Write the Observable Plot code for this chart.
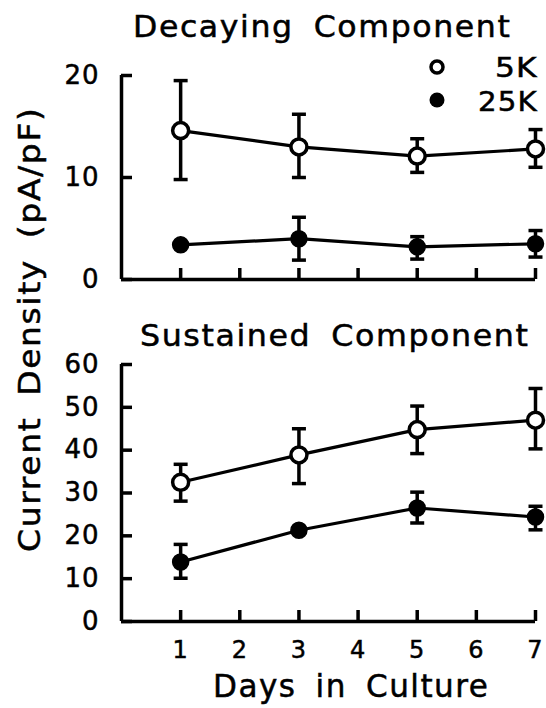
<!DOCTYPE html>
<html><head><meta charset="utf-8">
<script src="https://cdn.jsdelivr.net/npm/d3@7"></script>
<script src="https://cdn.jsdelivr.net/npm/@observablehq/plot@0.6"></script>
<style>
body{margin:0;background:#fff;}
#wrap{position:relative;width:546px;height:708px;overflow:hidden;background:#fff;}
#wrap > svg{position:absolute;left:0;}
#wrap text{stroke:#000;stroke-width:0.5px;}
</style></head><body>
<div id="wrap"></div>
<script>
// ---- data ----
const days = [1, 3, 5, 7];
const xTicks = [1, 2, 3, 4, 5, 6, 7];
const series = ["5K", "25K"];

const decayYTicks = [0, 10, 20];
const decay5K    = [14.6, 13.0, 12.1, 12.8];
const decay5KLo  = [9.8, 10.0, 10.5, 11.0];
const decay5KHi  = [19.5, 16.2, 13.8, 14.7];
const decay25K   = [3.4, 4.0, 3.2, 3.5];
const decay25KLo = [null, 1.9, 2.0, 2.2];
const decay25KHi = [null, 6.1, 4.2, 4.8];

const sustYTicks = [0, 10, 20, 30, 40, 50, 60];
const sust5K    = [32.5, 38.9, 44.8, 47.0];
const sust5KLo  = [28.1, 32.2, 39.2, 40.3];
const sust5KHi  = [36.7, 45.0, 50.3, 54.4];
const sust25K   = [13.9, 21.3, 26.5, 24.4];
const sust25KLo = [10.1, null, 23.0, 21.4];
const sust25KHi = [18.0, null, 30.2, 26.9];

const titles = ["Decaying Component", "Sustained Component"];
const yLabel = "Current Density (pA/pF)";
const xLabel = "Days in Culture";

// ---- build rows ----
function rowsFor(vals, lo, hi, name) {
  return days.map((d, i) => ({day: d, value: vals[i], lo: lo[i], hi: hi[i], series: name}));
}
const decayRows = [...rowsFor(decay5K, decay5KLo, decay5KHi, series[0]), ...rowsFor(decay25K, decay25KLo, decay25KHi, series[1])];
const sustRows  = [...rowsFor(sust5K, sust5KLo, sust5KHi, series[0]), ...rowsFor(sust25K, sust25KLo, sust25KHi, series[1])];

const FONT = "DejaVu Sans, sans-serif";
const capSymbol = {draw(ctx) { ctx.moveTo(-7, 0); ctx.lineTo(7, 0); }};

function panel({rows, yTicks, height, marginTop, marginBottom, showX}) {
  const yMax = yTicks[yTicks.length - 1];
  const bars = rows.filter(d => d.lo != null);
  const caps = bars.flatMap(d => [{day: d.day, v: d.lo}, {day: d.day, v: d.hi}]);
  return Plot.plot({
    width: 546, height, marginLeft: 121, marginRight: 11, marginTop, marginBottom,
    x: {domain: [0, 7]},
    y: {domain: [0, yMax]},
    style: {fontFamily: FONT, fontSize: "26px", color: "#000", background: "transparent", overflow: "visible", letterSpacing: "1px"},
    marks: [
      Plot.axisY(yTicks, {anchor: "left", tickSize: -11, tickPadding: 33, strokeWidth: 3.5, label: null, fontSize: 26}),
      Plot.axisX(xTicks, {anchor: "bottom", tickSize: -11, tickPadding: 30, strokeWidth: 3.5, label: null, fontSize: 24,
        tickFormat: showX ? (d => String(d)) : (() => "")}),
      Plot.ruleX([0], {y1: 0, y2: yMax, strokeWidth: 3.5}),
      Plot.ruleY([0], {x1: 0, x2: 7, strokeWidth: 3.5}),
      Plot.ruleX(bars, {x: "day", y1: "lo", y2: "hi", strokeWidth: 3.5}),
      Plot.dot(caps, {x: "day", y: "v", symbol: capSymbol, fill: "none", stroke: "black", strokeWidth: 3.5}),
      Plot.line(rows, {x: "day", y: "value", z: "series", stroke: "black", strokeWidth: 3.2}),
      Plot.dot(rows, {x: "day", y: "value", r: 8,
        fill: d => d.series === series[0] ? "white" : "black",
        stroke: "black", strokeWidth: d => d.series === series[0] ? 3.5 : 1.5})
    ]
  });
}

const wrap = document.getElementById("wrap");
const top1 = panel({rows: decayRows, yTicks: decayYTicks, height: 290, marginTop: 75, marginBottom: 11, showX: false});
top1.style.top = "0px";
wrap.appendChild(top1);
const top2 = panel({rows: sustRows, yTicks: sustYTicks, height: 371, marginTop: 64, marginBottom: 50, showX: true});
top2.style.top = "300px";
wrap.appendChild(top2);

// ---- text overlay (titles, axis labels, legend) ----
const ov = d3.select(wrap).append("svg")
  .attr("width", 546).attr("height", 708)
  .style("top", "0px")
  .attr("font-family", FONT).attr("fill", "#000");

// place text with its left edge at x, baseline y, spaced and stretched to the target width
function fitText(str, x, y, size, width, rotate, ls = 1.5, ws = 8) {
  const t = ov.append("text").attr("font-size", size)
    .style("letter-spacing", ls + "px").style("word-spacing", ws + "px").text(str);
  const L = t.node().getBBox().width - ls;
  const s = width / L;
  t.attr("transform", `translate(${x},${y})` + (rotate ? " rotate(-90)" : "") + ` scale(${s},1)`);
  return t;
}
fitText(titles[0], 133, 37, 30, 377);
fitText(titles[1], 140, 346, 30, 388);
fitText(xLabel, 213, 697, 32, 275);
fitText(yLabel, 40, 552, 30, 444, true);

// legend
ov.append("circle").attr("cx", 437).attr("cy", 67).attr("r", 6).attr("fill", "white").attr("stroke", "black").attr("stroke-width", 3.5);
ov.append("circle").attr("cx", 437).attr("cy", 100).attr("r", 7.5).attr("fill", "black");
fitText(series[0], 495, 77, 27, 42, false, 1, 0);
fitText(series[1], 478, 111, 27, 59, false, 1, 0);
</script>
</body></html>
